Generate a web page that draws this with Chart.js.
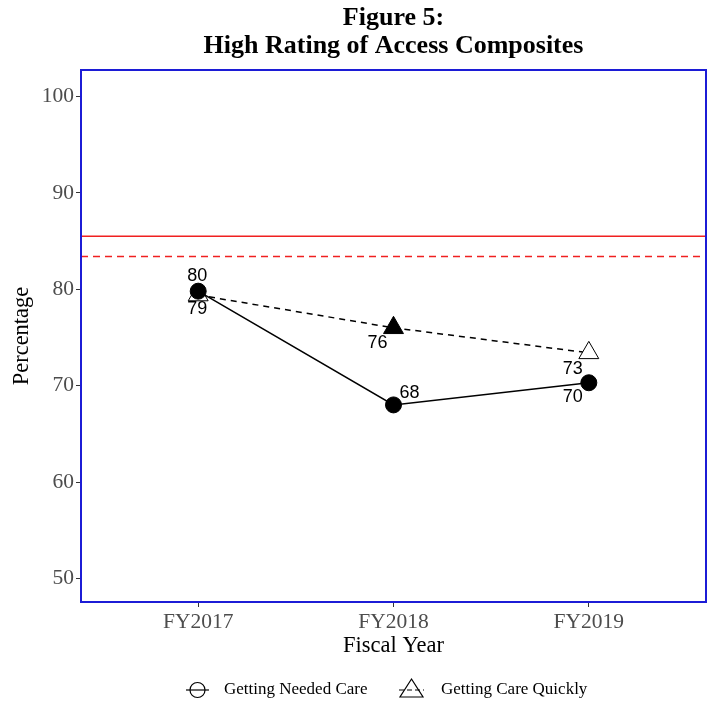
<!DOCTYPE html>
<html>
<head>
<meta charset="utf-8">
<script src="https://cdn.jsdelivr.net/npm/chart.js@4/dist/chart.umd.min.js"></script>
<style>
  html, body { margin: 0; padding: 0; background: #ffffff; }
  #wrap { width: 713px; height: 701px; }
</style>
</head>
<body>
<div id="wrap"><canvas id="c" width="713" height="701"></canvas></div>
<script>
// ---- data ----
const categories = ["FY2017", "FY2018", "FY2019"];
const neededCare = [79.8, 68.0, 70.3];      // Getting Needed Care
const careQuickly = [79.4, 76.0, 73.4];     // Getting Care Quickly
const benchmarkSolid = 85.5;
const benchmarkDashed = 83.4;
const yTicks = [50, 60, 70, 80, 90, 100];
const seriesNames = ["Getting Needed Care", "Getting Care Quickly"];
const titleLines = ["Figure 5:", "High Rating of Access Composites"];
const xTitle = "Fiscal Year";
const yTitle = "Percentage";

// label offsets (layout only, px)
const neededOffsets = [[-1, -15], [16, -12], [-16, 14]];
const quicklyOffsets = [[-1, 14], [-16, 15], [-16, 16]];

const SERIF = "'Liberation Serif', 'Times New Roman', serif";
const SANS = "'Liberation Sans', Arial, sans-serif";

function pts(vals) { return vals.map((v, i) => ({ x: i, y: v })); }

const xMin = -0.6, xMax = categories.length - 1 + 0.6;

const overlay = {
  id: 'overlay',
  afterDatasetsDraw(chart) {
    const ctx = chart.ctx, a = chart.chartArea;
    ctx.save();
    ctx.strokeStyle = '#1c1cd6';
    ctx.lineWidth = 2;
    ctx.strokeRect(a.left, a.top, a.right - a.left, a.bottom - a.top);

    // data labels
    const xs = chart.scales.x, ys = chart.scales.y;
    ctx.fillStyle = '#000';
    ctx.font = '18px ' + SANS;
    ctx.textAlign = 'center';
    ctx.textBaseline = 'middle';
    neededCare.forEach((v, i) => {
      const px = xs.getPixelForValue(i), py = ys.getPixelForValue(v);
      ctx.fillText(String(Math.round(v)), px + neededOffsets[i][0], py + neededOffsets[i][1]);
    });
    careQuickly.forEach((v, i) => {
      const px = xs.getPixelForValue(i), py = ys.getPixelForValue(v);
      ctx.fillText(String(Math.round(v)), px + quicklyOffsets[i][0], py + quicklyOffsets[i][1]);
    });
    ctx.restore();
  },
  afterDraw(chart) {
    const ctx = chart.ctx, a = chart.chartArea;
    const cx = (a.left + a.right) / 2, cy = (a.top + a.bottom) / 2;
    ctx.save();
    ctx.fillStyle = '#000';
    ctx.textAlign = 'center';
    ctx.textBaseline = 'middle';
    ctx.font = 'bold 26px ' + SERIF;
    ctx.fillText(titleLines[0], cx, 18);
    ctx.fillText(titleLines[1], cx, 46);
    ctx.font = '22.5px ' + SERIF;
    ctx.fillText(xTitle, cx, 646);
    ctx.save();
    ctx.translate(22, cy);
    ctx.rotate(-Math.PI / 2);
    ctx.fillText(yTitle, 0, 0);
    ctx.restore();

    // legend
    const ly = 690;
    ctx.strokeStyle = '#000';
    ctx.lineWidth = 1.2;
    ctx.beginPath(); ctx.moveTo(186, ly); ctx.lineTo(209, ly); ctx.stroke();
    ctx.beginPath(); ctx.arc(197.5, ly, 7.5, 0, Math.PI * 2); ctx.stroke();
    ctx.setLineDash([5, 3]);
    ctx.beginPath(); ctx.moveTo(399, ly); ctx.lineTo(424, ly); ctx.stroke();
    ctx.setLineDash([]);
    ctx.beginPath();
    ctx.moveTo(411.5, ly - 11); ctx.lineTo(423, ly + 7); ctx.lineTo(400, ly + 7); ctx.closePath();
    ctx.stroke();
    ctx.font = '17px ' + SERIF;
    ctx.textAlign = 'left';
    ctx.fillText(seriesNames[0], 224, ly);
    ctx.fillText(seriesNames[1], 441, ly);
    ctx.restore();
  }
};

new Chart(document.getElementById('c'), {
  type: 'line',
  data: {
    datasets: [
      {
        label: seriesNames[0],
        data: pts(neededCare),
        borderColor: '#000',
        backgroundColor: '#000',
        borderWidth: 1.5,
        pointStyle: 'circle',
        pointRadius: 8,
        pointBorderWidth: 1,
        pointBackgroundColor: '#000',
        pointBorderColor: '#000',
        order: 0
      },
      {
        label: seriesNames[1],
        data: pts(careQuickly),
        borderColor: '#000',
        borderWidth: 1.5,
        borderDash: [6, 5],
        pointStyle: 'triangle',
        pointRadius: 11.5,
        pointBorderWidth: 1,
        pointBackgroundColor: ['#fff', '#000', '#fff'],
        pointBorderColor: '#000',
        order: 1
      },
      {
        label: 'benchmark',
        data: [{ x: xMin, y: benchmarkSolid }, { x: xMax, y: benchmarkSolid }],
        borderColor: '#f02020',
        borderWidth: 1.5,
        pointRadius: 0,
        order: 2
      },
      {
        label: 'benchmark2',
        data: [{ x: xMin, y: benchmarkDashed }, { x: xMax, y: benchmarkDashed }],
        borderColor: '#f02020',
        borderWidth: 1.5,
        borderDash: [7, 5],
        pointRadius: 0,
        order: 3
      }
    ]
  },
  options: {
    responsive: false,
    animation: false,
    devicePixelRatio: 1,
    layout: { autoPadding: false, padding: { left: 0, right: 7, top: 70, bottom: 0 } },
    plugins: { legend: { display: false }, tooltip: { enabled: false }, title: { display: false } },
    scales: {
      x: {
        type: 'linear',
        min: xMin,
        max: xMax,
        afterBuildTicks(axis) { axis.ticks = categories.map((c, i) => ({ value: i })); },
        afterFit(axis) { axis.height = 99; axis.paddingLeft = 0; axis.paddingRight = 0; },
        ticks: {
          callback: (v) => categories[v] ?? '',
          font: { family: SERIF, size: 21.5 },
          color: '#4d4d4d',
          padding: 2,
          maxRotation: 0
        },
        grid: { drawOnChartArea: false, tickLength: 5, color: '#333', tickWidth: 1 },
        border: { display: false }
      },
      y: {
        type: 'linear',
        min: 47.55,
        max: 102.75,
        afterBuildTicks(axis) { axis.ticks = yTicks.map(v => ({ value: v })); },
        afterFit(axis) { axis.width = 81; axis.paddingTop = 0; axis.paddingBottom = 0; },
        ticks: {
          font: { family: SERIF, size: 21.5 },
          color: '#4d4d4d',
          padding: 2
        },
        grid: { drawOnChartArea: false, tickLength: 5, color: '#333', tickWidth: 1 },
        border: { display: false }
      }
    }
  },
  plugins: [overlay]
});
</script>
</body>
</html>
